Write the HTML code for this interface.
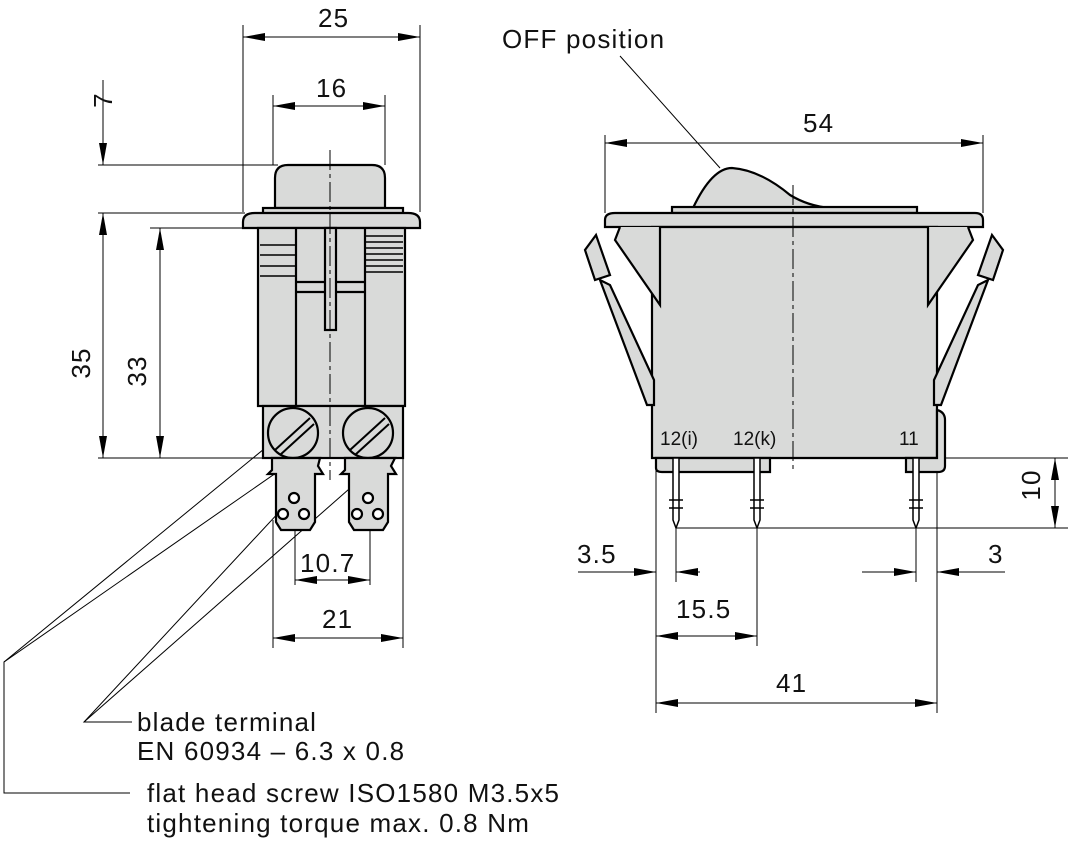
<!DOCTYPE html>
<html><head><style>body{margin:0;background:#fff}svg{display:block}text{font-family:"Liberation Sans",sans-serif;fill:#111}</style></head>
<body>
<svg width="1070" height="846" viewBox="0 0 1070 846" xmlns="http://www.w3.org/2000/svg">
<defs>
<marker id="b" viewBox="0 0 22 8" refX="22" refY="4" markerWidth="22" markerHeight="8" markerUnits="userSpaceOnUse" orient="auto-start-reverse"><path d="M0,0L22,4L0,8z" fill="#000"/></marker>
</defs>
<g stroke="#000" stroke-width="1" fill="none">
<line x1="243" y1="25" x2="243" y2="212"/><line x1="420" y1="25" x2="420" y2="212"/>
<line x1="273" y1="95" x2="273" y2="165"/><line x1="385" y1="95" x2="385" y2="165"/>
<line x1="98" y1="165" x2="278" y2="165"/><line x1="98" y1="213" x2="245" y2="213"/>
<line x1="150" y1="228" x2="258" y2="228"/><line x1="98" y1="458" x2="270" y2="458"/>
<line x1="295" y1="500" x2="295" y2="585"/><line x1="370" y1="500" x2="370" y2="585"/>
<line x1="273" y1="520" x2="273" y2="648"/><line x1="403" y1="458" x2="403" y2="648"/>
<line x1="243" y1="37" x2="420" y2="37" marker-start="url(#b)" marker-end="url(#b)"/>
<line x1="273" y1="106" x2="385" y2="106" marker-start="url(#b)" marker-end="url(#b)"/>
<line x1="103" y1="80" x2="103" y2="165" marker-end="url(#b)"/>
<line x1="103" y1="213" x2="103" y2="458" marker-start="url(#b)" marker-end="url(#b)"/>
<line x1="160" y1="228" x2="160" y2="458" marker-start="url(#b)" marker-end="url(#b)"/>
<line x1="295" y1="580" x2="370" y2="580" marker-start="url(#b)" marker-end="url(#b)"/>
<line x1="273" y1="638" x2="403" y2="638" marker-start="url(#b)" marker-end="url(#b)"/>
<line x1="605" y1="135" x2="605" y2="213"/><line x1="983" y1="135" x2="983" y2="213"/>
<line x1="938" y1="458" x2="1068" y2="458"/><line x1="676" y1="528" x2="1068" y2="528"/>
<line x1="656" y1="460" x2="656" y2="713"/><line x1="676" y1="528" x2="676" y2="582"/>
<line x1="757" y1="528" x2="757" y2="646"/><line x1="916" y1="528" x2="916" y2="582"/>
<line x1="937" y1="460" x2="937" y2="713"/>
<line x1="605" y1="143" x2="983" y2="143" marker-start="url(#b)" marker-end="url(#b)"/>
<line x1="1055" y1="458" x2="1055" y2="528" marker-start="url(#b)" marker-end="url(#b)"/>
<line x1="578" y1="572" x2="656" y2="572" marker-end="url(#b)"/>
<line x1="700" y1="572" x2="676" y2="572" marker-end="url(#b)"/>
<line x1="862" y1="572" x2="916" y2="572" marker-end="url(#b)"/>
<line x1="1005" y1="572" x2="937" y2="572" marker-end="url(#b)"/>
<line x1="656" y1="636" x2="757" y2="636" marker-start="url(#b)" marker-end="url(#b)"/>
<line x1="656" y1="703" x2="937" y2="703" marker-start="url(#b)" marker-end="url(#b)"/>
<line x1="620" y1="56" x2="720" y2="168"/>
<polyline points="130,793 4,793 4,662 275,440"/><line x1="4" y1="662" x2="345" y2="425"/>
<polyline points="132,722 84,722 295,495"/><line x1="84" y1="722" x2="365" y2="475"/>
</g>
<g stroke="#000" stroke-width="2.2" fill="#d9dad9">
<path d="M275,208V178Q275,165 288,165H372Q385,165 385,178V208Z"/>
<rect x="263" y="208" width="140" height="6"/>
<path d="M243,228V222Q243,213 255,213H408Q420,213 420,222V228Z"/>
<rect x="258" y="228" width="147" height="178"/>
<rect x="263" y="406" width="140" height="52"/>
<line x1="296" y1="228" x2="296" y2="406"/><line x1="365" y1="228" x2="365" y2="406"/>
<line x1="296" y1="282" x2="365" y2="282"/><line x1="296" y1="292" x2="365" y2="292"/>
<rect x="325" y="228" width="11" height="102"/>
<circle cx="293" cy="433" r="25"/><circle cx="368" cy="433" r="25"/>
<path d="M272,458V470L268,474H276V522L281,530H310L315,522V474H323L318,466L320,458Z"/>
<path d="M345,458V470L341,474H349V522L354,530H383L388,522V474H396L391,466L395,458Z"/>
<circle cx="294" cy="498" r="5" fill="#fff"/><circle cx="283" cy="514" r="5" fill="#fff"/><circle cx="304" cy="514" r="5" fill="#fff"/>
<circle cx="368" cy="498" r="5" fill="#fff"/><circle cx="357" cy="514" r="5" fill="#fff"/><circle cx="378" cy="514" r="5" fill="#fff"/>
</g>
<g stroke="#000" stroke-width="1.6">
<line x1="260" y1="245" x2="296" y2="245"/><line x1="260" y1="255" x2="296" y2="255"/><line x1="260" y1="266" x2="296" y2="266"/><line x1="260" y1="276" x2="296" y2="276"/>
<line x1="366" y1="236" x2="403" y2="236"/><line x1="366" y1="242" x2="403" y2="242"/><line x1="366" y1="248" x2="403" y2="248"/><line x1="366" y1="254" x2="403" y2="254"/><line x1="366" y1="260" x2="403" y2="260"/><line x1="366" y1="266" x2="403" y2="266"/><line x1="366" y1="272" x2="403" y2="272"/>
<line x1="275" y1="450" x2="310" y2="418" stroke-width="2"/><line x1="280" y1="455" x2="314" y2="424" stroke-width="2"/>
<line x1="350" y1="450" x2="385" y2="418" stroke-width="2"/><line x1="355" y1="455" x2="389" y2="424" stroke-width="2"/>
<line x1="330" y1="150" x2="330" y2="480" stroke-width="1" stroke-dasharray="20,4,4,4"/>
</g>
<g stroke="#000" stroke-width="2.2" fill="#d9dad9">
<path d="M693,208Q712,168 732,168Q760,170 790,195Q808,206 830,208Z"/>
<rect x="672" y="207" width="245" height="6"/>
<path d="M605,227V220Q605,213 615,213H975Q983,213 983,220V227Z"/>
<path d="M652,227H937V458H652Z"/>
<path d="M620,227L615,240L660,305V227"/>
<path d="M968,227L973,240L928,305V227"/>
<path d="M600,280L647,405H654V380L610,285Z"/>
<path d="M988,280L941,405H934V380L978,285Z"/>
<path d="M596,235L585,250L595,280L610,275Z"/><path d="M992,235L1003,250L993,280L978,275Z"/>
<path d="M656,458V468Q656,472 662,472H770V458Z"/>
<path d="M937,410Q945,412 945,420V466Q945,472 938,472H906V458H937Z"/>
</g>
<g stroke="#000" stroke-width="1.5" fill="#fff">
<path d="M673,458V520L676,528L679,520V458Z"/><path d="M754,458V520L757,528L760,520V458Z"/><path d="M913,458V520L916,528L919,520V458Z"/>
<line x1="669" y1="500" x2="683" y2="500"/><line x1="669" y1="508" x2="683" y2="508"/>
<line x1="750" y1="500" x2="764" y2="500"/><line x1="750" y1="508" x2="764" y2="508"/>
<line x1="909" y1="500" x2="923" y2="500"/><line x1="909" y1="508" x2="923" y2="508"/>
<line x1="793" y1="185" x2="793" y2="472" stroke-width="1" stroke-dasharray="20,4,4,4"/>
</g>
<g font-size="26" letter-spacing="1.2">
<text x="318" y="27">25</text>
<text x="316" y="97">16</text>
<text x="100" y="112" transform="rotate(-90 100 100)" text-anchor="middle">7</text>
<text x="97" y="370" transform="rotate(-90 90 370)" text-anchor="middle">35</text>
<text x="153" y="378" transform="rotate(-90 146 378)" text-anchor="middle">33</text>
<text x="300" y="572">10.7</text>
<text x="322" y="628">21</text>
<text x="502" y="48">OFF position</text>
<text x="803" y="132">54</text>
<text x="1048" y="493" transform="rotate(-90 1040 493)" text-anchor="middle">10</text>
<text x="577" y="563">3.5</text>
<text x="988" y="563">3</text>
<text x="676" y="618">15.5</text>
<text x="776" y="692">41</text>
<text x="137" y="731">blade terminal</text>
<text x="137" y="760">EN 60934 – 6.3 x 0.8</text>
<text x="147" y="802">flat head screw ISO1580 M3.5x5</text>
<text x="147" y="832">tightening torque max. 0.8 Nm</text>
</g>
<g font-size="19">
<text x="660" y="445">12(i)</text><text x="733" y="445">12(k)</text><text x="899" y="445">11</text>
</g>
</svg>
</body></html>
